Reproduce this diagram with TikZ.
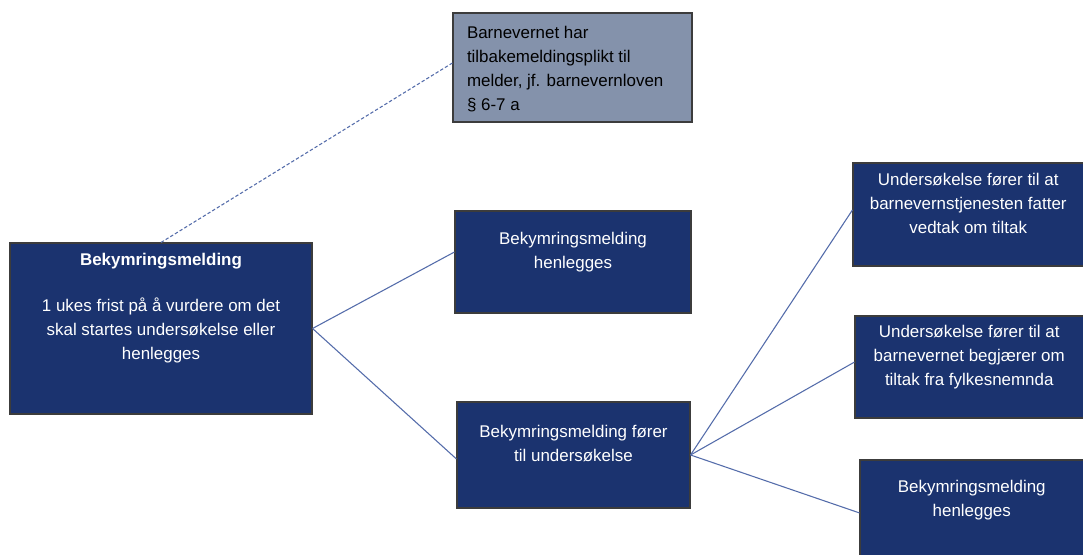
\documentclass[tikz,border=0pt]{standalone}
\usepackage{fontspec}
\setmainfont{Liberation Sans}
\newdimen\pxu \pxu=0.75pt
\definecolor{navy}{RGB}{27,51,111}
\definecolor{slate}{RGB}{132,146,171}
\definecolor{edgegray}{RGB}{60,60,60}
\definecolor{conn}{RGB}{84,108,170}
\newcommand\boxtxt[4]{\parbox[c][#2\pxu][t]{#1\pxu}{\vspace*{#3\pxu}\centering\strut #4}}
\newcommand\boxtxtl[4]{\parbox[c][#2\pxu][t]{#1\pxu}{\vspace*{#3\pxu}\raggedright\leftskip=14\pxu\strut #4}}
\tikzset{
  basebox/.style={draw=edgegray, line width=0.8pt, inner sep=0pt, rectangle,
    font=\fontsize{12.7}{18}\selectfont},
  navybox/.style={basebox, fill=navy, text=white},
  graybox/.style={basebox, fill=slate, text=black},
  conline/.style={draw=conn, line width=0.8pt},
  dashline/.style={draw=conn, line width=0.8pt, dash pattern=on 2.5pt off 1.6pt}
}
\begin{document}
\begin{tikzpicture}[x=0.75pt,y=-0.75pt]
\clip (0,0) rectangle (1083,555);
\fill[white] (0,0) rectangle (1083,555);

\node[graybox] (gray) at (572.5,67.5) {\boxtxtl{239}{109}{9.2}{Barnevernet har\\tilbakemeldingsplikt til\\melder, jf. barnevernloven\\§ 6-7 a}};

\node[navybox] (main) at (161,328.5) {\boxtxt{302}{171}{6.2}{\textbf{Bekymringsmelding}\\[16.5pt]1 ukes frist på å vurdere om det\\skal startes undersøkelse eller\\henlegges}};

\node[navybox] (hen1) at (573,262) {\boxtxt{236}{102}{17.2}{Bekymringsmelding\\henlegges}};

\node[navybox] (und) at (573.5,455) {\boxtxt{233}{106}{19.2}{Bekymringsmelding fører\\til undersøkelse}};

\node[navybox] (vedtak) at (968.25,214.5) {\boxtxt{230.5}{103}{6.2}{Undersøkelse fører til at\\barnevernstjenesten fatter\\vedtak om tiltak}};

\node[navybox] (nemnd) at (969.25,367) {\boxtxt{228.5}{102}{5.2}{Undersøkelse fører til at\\barnevernet begjærer om\\tiltak fra fylkesnemnda}};

\node[navybox] (hen2) at (971.75,508) {\boxtxt{223.5}{96}{16.2}{Bekymringsmelding\\henlegges}};

\draw[dashline] (main.north) -- ([yshift=3.4pt]gray.west);
\draw[conline] (main.east) -- ([yshift=7.5pt]hen1.west);
\draw[conline] (main.east) -- ([yshift=-3pt]und.west);
\draw[conline] (und.east) -- ([yshift=3.4pt]vedtak.west);
\draw[conline] (und.east) -- ([yshift=3.7pt]nemnd.west);
\draw[conline] (und.east) -- ([yshift=-3.7pt]hen2.west);
\end{tikzpicture}
\end{document}
